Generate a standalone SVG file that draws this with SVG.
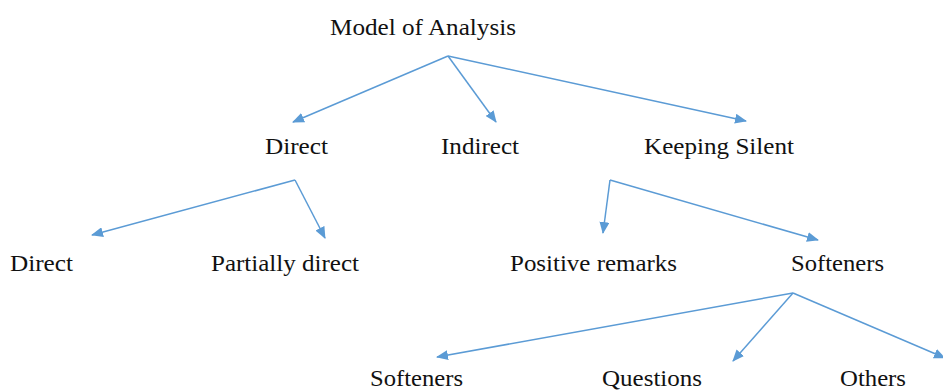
<svg xmlns="http://www.w3.org/2000/svg" width="943" height="391" viewBox="0 0 943 391">
<style>
text{font-family:"Liberation Serif","Times New Roman",serif;font-size:23px;fill:#111}
.c{stroke:#5B9BD5;stroke-width:1.5;fill:none}
</style>
<defs>
<marker id="ah" viewBox="0 0 12 10" refX="11" refY="5" markerWidth="12" markerHeight="10" markerUnits="userSpaceOnUse" orient="auto">
<path d="M0,0 L12,5 L0,10 Z" fill="#5B9BD5"/>
</marker>
</defs>
<rect width="943" height="391" fill="#fff"/>
<g id="connectors">
<path class="c" d="M448,56 L293,122" marker-end="url(#ah)"/>
<path class="c" d="M448,56 L496,122" marker-end="url(#ah)"/>
<path class="c" d="M448,56 L746,121" marker-end="url(#ah)"/>
<path class="c" d="M295,180 L92,235" marker-end="url(#ah)"/>
<path class="c" d="M295,180 L325,238" marker-end="url(#ah)"/>
<path class="c" d="M610,180 L603,233" marker-end="url(#ah)"/>
<path class="c" d="M610,180 L818,240" marker-end="url(#ah)"/>
<path class="c" d="M793,293 L437,357" marker-end="url(#ah)"/>
<path class="c" d="M793,293 L733,361" marker-end="url(#ah)"/>
<path class="c" d="M793,293 L945,358" marker-end="url(#ah)"/>
</g>
<g id="n-root"><text x="330" y="35" textLength="186" lengthAdjust="spacingAndGlyphs">Model of Analysis</text></g>
<g id="n-direct"><text x="265" y="154" textLength="63" lengthAdjust="spacingAndGlyphs">Direct</text></g>
<g id="n-indirect"><text x="441" y="154" textLength="78" lengthAdjust="spacingAndGlyphs">Indirect</text></g>
<g id="n-silent"><text x="644" y="154" textLength="150" lengthAdjust="spacingAndGlyphs">Keeping Silent</text></g>
<g id="n-direct2"><text x="10" y="271" textLength="63" lengthAdjust="spacingAndGlyphs">Direct</text></g>
<g id="n-partial"><text x="211" y="271" textLength="148" lengthAdjust="spacingAndGlyphs">Partially direct</text></g>
<g id="n-positive"><text x="510" y="271" textLength="167" lengthAdjust="spacingAndGlyphs">Positive remarks</text></g>
<g id="n-softeners"><text x="791" y="271" textLength="93" lengthAdjust="spacingAndGlyphs">Softeners</text></g>
<g id="n-softeners2"><text x="370" y="386" textLength="93" lengthAdjust="spacingAndGlyphs">Softeners</text></g>
<g id="n-questions"><text x="602" y="386" textLength="100" lengthAdjust="spacingAndGlyphs">Questions</text></g>
<g id="n-others"><text x="840" y="386" textLength="66" lengthAdjust="spacingAndGlyphs">Others</text></g>
</svg>
